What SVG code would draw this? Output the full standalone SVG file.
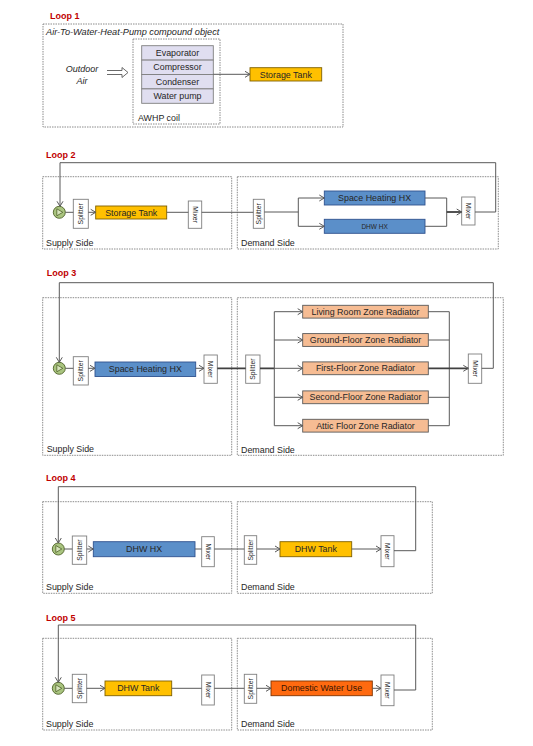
<svg xmlns="http://www.w3.org/2000/svg" width="533" height="746" viewBox="0 0 533 746">
<defs>
<marker id="chev" markerUnits="userSpaceOnUse" markerWidth="8" markerHeight="8" refX="5" refY="3" orient="auto" overflow="visible">
<path d="M0,0 L5,3 L0,6" fill="none" stroke="#595959" stroke-width="1"/>
</marker>
<style>
text{font-family:"Liberation Sans",Arial,sans-serif;fill:#262626}
.loop{font-size:9px;font-weight:bold;fill:#c00000}
.area{fill:none;stroke:#7f7f7f;stroke-width:0.9;stroke-dasharray:1.5,1}
.lbl{font-size:8.9px}
.it{font-size:9px;font-style:italic}
.sm{fill:#fff;stroke:#7f7f7f;stroke-width:0.9}
.vt{font-size:6.8px;text-anchor:middle;dominant-baseline:central}
.bx{font-size:8.9px;text-anchor:middle;dominant-baseline:central}
.gold{fill:#ffc000;stroke:#7f6000;stroke-width:0.9}
.blue{fill:#5b8fc9;stroke:#2f528f;stroke-width:0.9}
.salm{fill:#f6bc93;stroke:#595959;stroke-width:0.9}
.orng{fill:#ff6a10;stroke:#7f3300;stroke-width:0.9}
.lav{fill:#e0def0;stroke:#7f7f7f;stroke-width:0.9}
.ln{fill:none;stroke:#595959;stroke-width:1}
.thk{fill:none;stroke:#404040;stroke-width:1.8}
.pump{fill:#a9c47f;stroke:#4f6228;stroke-width:0.9}
.tri{fill:#d7e4bd;stroke:#4f6228;stroke-width:0.8}
</style>
</defs>

<!-- LOOP 1 -->
<g id="loop1">
<text class="loop" x="50" y="19">Loop 1</text>
<rect class="area" x="43" y="24" width="300" height="103"/>
<text class="it" x="46" y="34.5" style="font-size:9.2px">Air-To-Water-Heat-Pump compound object</text>
<text class="it" x="82" y="71.5" text-anchor="middle">Outdoor</text>
<text class="it" x="82" y="84" text-anchor="middle">Air</text>
<path d="M107,70.5 H122 V67.5 L128,72.5 L122,77.5 V74.5 H107" fill="#fff" stroke="#595959" stroke-width="0.9"/>
</g>
<g id="awhp-coil">
<rect class="area" x="133" y="39" width="87" height="85"/>
<rect class="lav" x="141.7" y="45.7" width="71.6" height="14.4"/>
<rect class="lav" x="141.7" y="60.1" width="71.6" height="14.4"/>
<rect class="lav" x="141.7" y="74.5" width="71.6" height="14.4"/>
<rect class="lav" x="141.7" y="88.9" width="71.6" height="14.4"/>
<text class="bx" x="177.5" y="53">Evaporator</text>
<text class="bx" x="177.5" y="67.4">Compressor</text>
<text class="bx" x="177.5" y="81.8">Condenser</text>
<text class="bx" x="177.5" y="96.2">Water pump</text>
<text class="lbl" x="138" y="121">AWHP coil</text>
</g>
<g id="l1-storage-tank">
<rect class="gold" x="250" y="67.7" width="71.7" height="13.3"/>
<text class="bx" x="285.8" y="74.5">Storage Tank</text>
</g>

<!-- LOOP 2 -->
<g id="loop2">
<text class="loop" x="46" y="158">Loop 2</text>
<rect class="area" x="42.7" y="176.7" width="189" height="72.3"/>
<text class="lbl" x="46" y="245.5">Supply Side</text>
<rect class="area" x="237.3" y="176.7" width="261" height="72.3"/>
<text class="lbl" x="241" y="245.5">Demand Side</text>
</g>
<g id="l2-pump"><circle class="pump" cx="59.3" cy="212.3" r="6"/><path class="tri" d="M56.8,208.8 L62.8,212.3 L56.8,215.8 Z"/></g>
<g id="l2-splitter-s"><rect class="sm" x="73.3" y="199.3" width="15" height="29"/><text class="vt" transform="translate(80.8,213.8) rotate(-90)">Splitter</text></g>
<g id="l2-storage-tank"><rect class="gold" x="95.7" y="206" width="71" height="13"/><text class="bx" x="131.2" y="212.8">Storage Tank</text></g>
<g id="l2-mixer-s"><rect class="sm" x="188.3" y="201" width="13.4" height="27.3"/><text class="vt" transform="translate(195,214.6) rotate(90)">Mixer</text></g>
<g id="l2-splitter-d"><rect class="sm" x="253.3" y="199.3" width="11" height="29"/><text class="vt" transform="translate(258.8,213.8) rotate(-90)">Splitter</text></g>
<g id="l2-sh-hx"><rect class="blue" x="324.3" y="191" width="100.7" height="14"/><text class="bx" x="374.6" y="198.3">Space Heating HX</text></g>
<g id="l2-dhw-hx"><rect class="blue" x="324.3" y="219.3" width="100.7" height="14"/><text class="bx" x="374.6" y="226.6" style="font-size:6.5px">DHW HX</text></g>
<g id="l2-mixer-d"><rect class="sm" x="461.7" y="197" width="13.3" height="28"/><text class="vt" transform="translate(468.3,211) rotate(90)">Mixer</text></g>

<!-- LOOP 3 -->
<g id="loop3">
<text class="loop" x="46.7" y="276">Loop 3</text>
<rect class="area" x="42.7" y="297.7" width="189" height="157.6"/>
<text class="lbl" x="46.7" y="452">Supply Side</text>
<rect class="area" x="237.3" y="297.7" width="266" height="157.6"/>
<text class="lbl" x="241" y="452.5">Demand Side</text>
</g>
<g id="l3-pump"><circle class="pump" cx="59.3" cy="368.3" r="6"/><path class="tri" d="M56.8,364.8 L62.8,368.3 L56.8,371.8 Z"/></g>
<g id="l3-splitter-s"><rect class="sm" x="73.3" y="356.7" width="15" height="28.3"/><text class="vt" transform="translate(80.8,370.8) rotate(-90)">Splitter</text></g>
<g id="l3-sh-hx"><rect class="blue" x="95" y="362" width="100.7" height="14.5"/><text class="bx" x="145.3" y="369.3">Space Heating HX</text></g>
<g id="l3-mixer-s"><rect class="sm" x="204" y="355" width="13.3" height="28.3"/><text class="vt" transform="translate(210.6,369.1) rotate(90)">Mixer</text></g>
<g id="l3-splitter-d"><rect class="sm" x="245.7" y="355" width="14.3" height="28.3"/><text class="vt" transform="translate(252.8,369.1) rotate(-90)">Splitter</text></g>
<g id="l3-living"><rect class="salm" x="302.7" y="305.3" width="125.6" height="12.8"/><text class="bx" x="365.5" y="311.7">Living Room Zone Radiator</text></g>
<g id="l3-ground"><rect class="salm" x="302.7" y="333.6" width="125.6" height="12.8"/><text class="bx" x="365.5" y="340">Ground-Floor Zone Radiator</text></g>
<g id="l3-first"><rect class="salm" x="302.7" y="361.9" width="125.6" height="12.8"/><text class="bx" x="365.5" y="368.3">First-Floor Zone Radiator</text></g>
<g id="l3-second"><rect class="salm" x="302.7" y="390.9" width="125.6" height="12.8"/><text class="bx" x="365.5" y="397.3">Second-Floor Zone Radiator</text></g>
<g id="l3-attic"><rect class="salm" x="302.7" y="419.3" width="125.6" height="12.8"/><text class="bx" x="365.5" y="425.7">Attic Floor Zone Radiator</text></g>
<g id="l3-mixer-d"><rect class="sm" x="468.3" y="354" width="13.4" height="29.3"/><text class="vt" transform="translate(475,368.6) rotate(90)">Mixer</text></g>

<!-- LOOP 4 -->
<g id="loop4">
<text class="loop" x="46" y="481">Loop 4</text>
<rect class="area" x="42.7" y="501.7" width="189" height="91.6"/>
<text class="lbl" x="46" y="590">Supply Side</text>
<rect class="area" x="237.3" y="501.7" width="195" height="91.6"/>
<text class="lbl" x="241" y="590">Demand Side</text>
</g>
<g id="l4-pump"><circle class="pump" cx="58.3" cy="549" r="6"/><path class="tri" d="M55.8,545.5 L61.8,549 L55.8,552.5 Z"/></g>
<g id="l4-splitter-s"><rect class="sm" x="72.3" y="536" width="14.4" height="28.3"/><text class="vt" transform="translate(79.5,550.1) rotate(-90)">Splitter</text></g>
<g id="l4-dhw-hx"><rect class="blue" x="93.3" y="541.7" width="101.7" height="15"/><text class="bx" x="144.1" y="549.2">DHW HX</text></g>
<g id="l4-mixer-s"><rect class="sm" x="201.7" y="536.7" width="12.6" height="30"/><text class="vt" transform="translate(208,551.7) rotate(90)">Mixer</text></g>
<g id="l4-splitter-d"><rect class="sm" x="244.3" y="535.7" width="12.4" height="28.6"/><text class="vt" transform="translate(250.5,550) rotate(-90)">Splitter</text></g>
<g id="l4-dhw-tank"><rect class="gold" x="280" y="541.7" width="71.7" height="15"/><text class="bx" x="315.8" y="549.2">DHW Tank</text></g>
<g id="l4-mixer-d"><rect class="sm" x="381" y="535.7" width="13" height="31"/><text class="vt" transform="translate(387.5,551.2) rotate(90)">Mixer</text></g>

<!-- LOOP 5 -->
<g id="loop5">
<text class="loop" x="46" y="621">Loop 5</text>
<rect class="area" x="42.7" y="638.3" width="189" height="91.7"/>
<text class="lbl" x="46" y="726.5">Supply Side</text>
<rect class="area" x="237.3" y="638.3" width="195" height="91.7"/>
<text class="lbl" x="241" y="726.5">Demand Side</text>
</g>
<g id="l5-pump"><circle class="pump" cx="58.3" cy="688.3" r="6"/><path class="tri" d="M55.8,684.8 L61.8,688.3 L55.8,691.8 Z"/></g>
<g id="l5-splitter-s"><rect class="sm" x="72.3" y="674.3" width="14.4" height="28.4"/><text class="vt" transform="translate(79.5,688.5) rotate(-90)">Splitter</text></g>
<g id="l5-dhw-tank"><rect class="gold" x="105" y="681" width="66.7" height="14.7"/><text class="bx" x="138.3" y="688.4">DHW Tank</text></g>
<g id="l5-mixer-s"><rect class="sm" x="201.7" y="675" width="12.6" height="30"/><text class="vt" transform="translate(208,690) rotate(90)">Mixer</text></g>
<g id="l5-splitter-d"><rect class="sm" x="244.3" y="674.3" width="12.4" height="29"/><text class="vt" transform="translate(250.5,688.8) rotate(-90)">Splitter</text></g>
<g id="l5-dwu"><rect class="orng" x="271" y="681" width="101.3" height="14.7"/><text class="bx" x="321.6" y="688.4" style="fill:#3a1500">Domestic Water Use</text></g>
<g id="l5-mixer-d"><rect class="sm" x="381" y="675" width="13" height="30.7"/><text class="vt" transform="translate(387.5,690.3) rotate(90)">Mixer</text></g>

<!-- CONNECTORS -->
<g id="connectors">
<path class="ln" d="M213.3,74.3 H250" marker-end="url(#chev)"/>

<path class="ln" d="M475,212 H495.7 V162.7 H60 V206.3" marker-end="url(#chev)"/>
<path class="ln" d="M65.3,212.3 H73.3"/>
<path class="ln" d="M88.3,212.3 H95.7" marker-end="url(#chev)"/>
<path class="ln" d="M166.7,212.3 H188.3"/>
<path class="ln" d="M201.7,212.3 H253.3"/>
<path class="ln" d="M264.3,212 H298.3 M298.3,198 V226.3"/>
<path class="ln" d="M298.3,198 H324.3" marker-end="url(#chev)"/>
<path class="ln" d="M298.3,226.3 H324.3" marker-end="url(#chev)"/>
<path class="ln" d="M425,198 H446.7 V226.3 H425"/>
<path class="thk" d="M446.7,212 H461.7" marker-end="url(#chev)"/>

<path class="ln" d="M481.7,368.3 H493.3 V282.7 H59.3 V362.3" marker-end="url(#chev)"/>
<path class="ln" d="M65.3,368.3 H73.3"/>
<path class="ln" d="M88.3,368.3 H95" marker-end="url(#chev)"/>
<path class="ln" d="M195.7,368.3 H204" marker-end="url(#chev)"/>
<path class="thk" d="M217.3,368.3 H245.7 M260,368.3 H274.3"/>
<path class="ln" d="M274.3,311.7 V425.7"/>
<path class="ln" d="M274.3,311.7 H302.7" marker-end="url(#chev)"/>
<path class="ln" d="M274.3,340 H302.7" marker-end="url(#chev)"/>
<path class="ln" d="M274.3,368.3 H302.7" marker-end="url(#chev)"/>
<path class="ln" d="M274.3,397.3 H302.7" marker-end="url(#chev)"/>
<path class="ln" d="M274.3,425.7 H302.7" marker-end="url(#chev)"/>
<path class="ln" d="M428.3,311.7 H449.3 M428.3,340 H449.3 M428.3,397.3 H449.3 M428.3,425.7 H449.3 M449.3,311.7 V425.7"/>
<path class="thk" d="M428.3,368.3 H468.3" marker-end="url(#chev)"/>

<path class="ln" d="M394,550.7 H415.7 V486.7 H58.3 V543" marker-end="url(#chev)"/>
<path class="ln" d="M64.3,549 H72.3"/>
<path class="ln" d="M86.7,549 H93.3" marker-end="url(#chev)"/>
<path class="ln" d="M195,549 H201.7"/>
<path class="ln" d="M214.3,549 H244.3"/>
<path class="ln" d="M256.7,549 H280" marker-end="url(#chev)"/>
<path class="ln" d="M351.7,549 H381" marker-end="url(#chev)"/>

<path class="ln" d="M394,690 H415.7 V625 H58.3 V682.3" marker-end="url(#chev)"/>
<path class="ln" d="M64.3,688.3 H72.3"/>
<path class="ln" d="M86.7,688.3 H105" marker-end="url(#chev)"/>
<path class="ln" d="M171.7,688.3 H201.7"/>
<path class="ln" d="M214.3,688.3 H244.3"/>
<path class="ln" d="M256.7,688.3 H271" marker-end="url(#chev)"/>
<path class="ln" d="M372.3,688.3 H381" marker-end="url(#chev)"/>
</g>
</svg>
